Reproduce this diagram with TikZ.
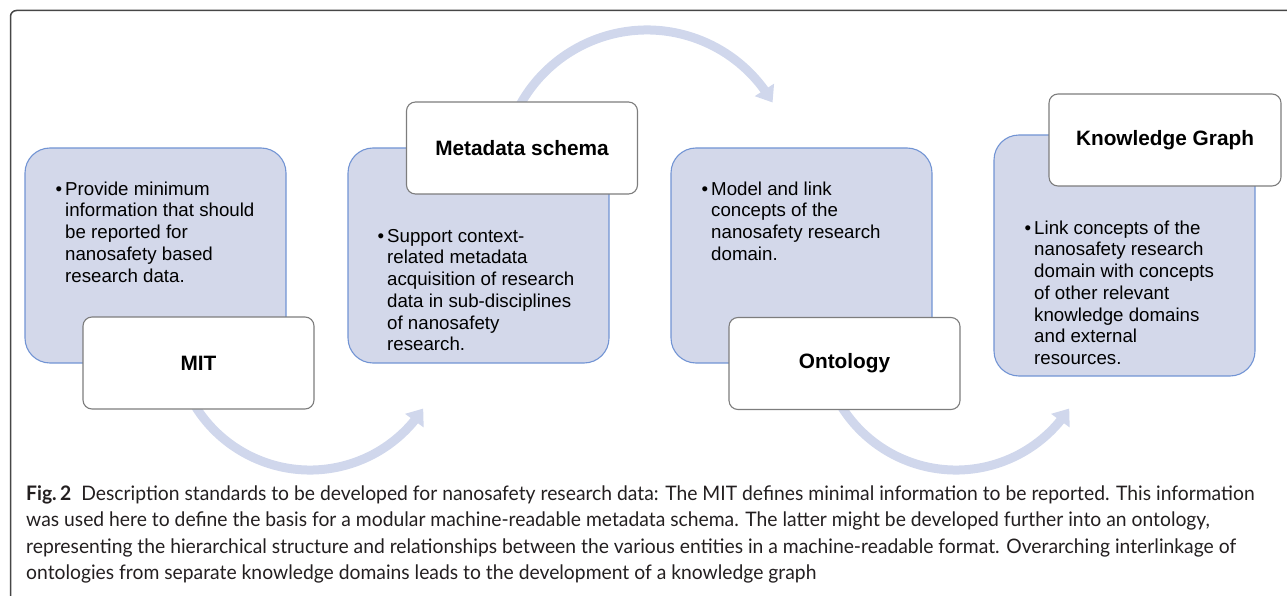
\documentclass[tikz,border=0pt]{standalone}
\usepackage{fontspec}
\setmainfont{Liberation Sans}
\newfontfamily\capfont[FakeStretch=0.965]{Lato}
\usetikzlibrary{arrows.meta,bending}
\definecolor{boxfill}{RGB}{211,216,234}
\definecolor{boxline}{RGB}{114,148,212}
\definecolor{arccol}{RGB}{208,215,236}
\definecolor{framecol}{RGB}{70,70,70}
\definecolor{wline}{RGB}{125,125,125}
\definecolor{captext}{RGB}{35,31,32}
\begin{document}
\begin{tikzpicture}[x=1pt,y=-1pt,
  bluebox/.style={draw=boxline, fill=boxfill, line width=1.1pt, rounded corners=25pt, inner sep=0pt, minimum width=261pt, minimum height=215pt},
  whitebox/.style={draw=wline, fill=white, line width=1.1pt, rounded corners=9pt, inner sep=0pt, minimum width=231pt, minimum height=92pt, font=\fontsize{20.8}{24}\selectfont\bfseries},
  bullettext/.style={anchor=north west, inner sep=0pt, align=left, font=\fontsize{18.7}{21.7}\selectfont},
  flow/.style={draw=arccol, line width=9pt, -{Triangle[width=22pt,length=15pt]}}]
\useasboundingbox (0,0) rectangle (1287,596);
% frame
\draw[framecol, line width=1.5pt, rounded corners=6pt] (1295,10.5) -- (10.5,10.5) -- (10.5,605);
% arcs (behind)
\coordinate (c1) at (310,335);
\coordinate (c2) at (647,175);
\coordinate (c3) at (956,335);
\draw[flow] (c1) ++(160:135) arc[start angle=160, end angle=33, radius=135];
\draw[flow] (c2) ++(200:145) arc[start angle=200, end angle=330, radius=145];
\draw[flow] (c3) ++(160:135) arc[start angle=160, end angle=33, radius=135];
% blue boxes
\node[bluebox] (b1) at (155.5,255.5) {};
\node[bluebox] (b2) at (478.5,255.5) {};
\node[bluebox] (b3) at (801.5,255.5) {};
\node[bluebox, minimum height=241pt] (b4) at (1124.5,255.5) {};
% white boxes
\node[whitebox] (w1) at (198.5,363) {MIT};
\node[whitebox] (w2) at (522,148) {Metadata schema};
\node[whitebox] (w3) at (844.5,363.5) {Ontology};
\node[whitebox, minimum width=232pt] (w4) at (1165,140) {Knowledge Graph};
% bullet texts
\node[bullettext] (t1) at (65,181) {\rule{0pt}{14pt}\llap{\textbullet\hspace{3pt}}Provide minimum\\information that should\\be reported for\\nanosafety based\\research data.};
\node[bullettext] (t2) at (387,228) {\rule{0pt}{14pt}\llap{\textbullet\hspace{3pt}}Support context-\\related metadata\\acquisition of research\\data in sub-disciplines\\of nanosafety\\research.};
\node[bullettext] (t3) at (711,181) {\rule{0pt}{14pt}\llap{\textbullet\hspace{3pt}}Model and link\\concepts of the\\nanosafety research\\domain.};
\node[bullettext] (t4) at (1034,220) {\rule{0pt}{14pt}\llap{\textbullet\hspace{3pt}}Link concepts of the\\nanosafety research\\domain with concepts\\of other relevant\\knowledge domains\\and external\\resources.};
% caption
\node[anchor=north west, inner sep=0pt, align=left, font=\capfont\fontsize{20}{26.5}\selectfont, text=captext] (cap) at (26,485) {\rule{0pt}{15pt}\textbf{Fig.\,2}\hspace{10pt}Description standards to be developed for nanosafety research data: The MIT defines minimal information to be reported. This information\\was used here to define the basis for a modular machine-readable metadata schema. The latter might be developed further into an ontology,\\representing the hierarchical structure and relationships between the various entities in a machine-readable format. Overarching interlinkage of\\ontologies from separate knowledge domains leads to the development of a knowledge graph};
\end{tikzpicture}
\end{document}
